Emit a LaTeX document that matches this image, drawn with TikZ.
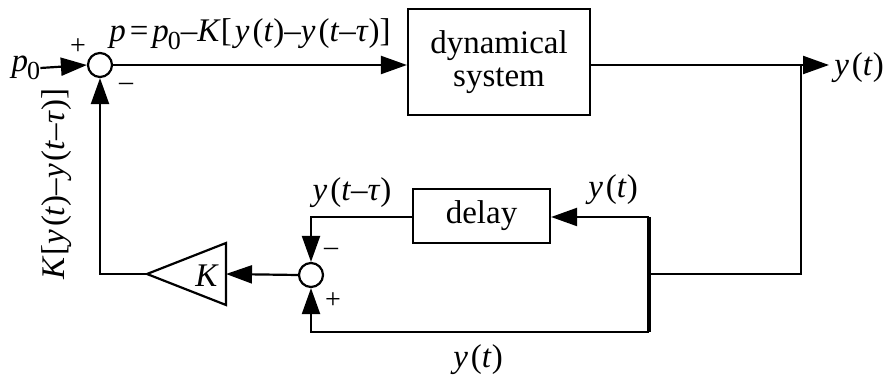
\documentclass[tikz,border=0pt]{standalone}
\usepackage{fontspec}
\setmainfont{Liberation Serif}
\usetikzlibrary{arrows.meta,calc}
\newcommand\mi[1]{\textit{#1}}
\newcommand\yof[1]{\mi{y}\kern3pt(#1)}
\newcommand\ytt{\yof{\mi{t}}}
\newcommand\ytau{\yof{\mi{t}–\mi{τ}}}
\newcommand\pnull{\mi{p}\kern-1pt\raisebox{-8pt}{\fontsize{26}{26}\selectfont 0}}
\tikzset{
  wire/.style={line width=2.2pt},
  thickwire/.style={line width=3.2pt},
  arr/.style={wire,-{Triangle[length=26pt,width=18pt]}},
  sumj/.style={circle,draw,line width=2.2pt,minimum size=24pt,inner sep=0pt},
  blockbox/.style={draw,line width=2.2pt,rectangle,inner sep=0pt,align=center},
  lbl/.style={inner sep=0pt,font=\fontsize{33}{37}\selectfont},
  sgn/.style={inner sep=0pt,font=\fontsize{28}{30}\selectfont}
}
\begin{document}
\begin{tikzpicture}[x=1pt,y=-1pt]
\useasboundingbox (0,0) rectangle (887,379);
% nodes
\node[lbl] (p0) at (26,68) {\pnull};
\node[sumj] (s1) at (100,65) {};
\node[blockbox,minimum width=182pt,minimum height=106pt,lbl,inner sep=0pt] (dyn) at (499,62) {dynamical\\[-4pt]system};
\node[blockbox,minimum width=137pt,minimum height=54pt,lbl] (del) at (481.5,216) {delay};
\node[sumj] (s2) at (311,275) {};
\coordinate (out) at (829,65);
\coordinate (br1) at (801,65);
\coordinate (br2) at (801,274);
\coordinate (vt) at (649,217);
\coordinate (vm) at (649,274);
\coordinate (vb) at (649,332);
\coordinate (gtip) at (147,274);
\coordinate (gin) at (226,274);
\coordinate (gtop) at (226,243);
\coordinate (gbot) at (226,305);
\coordinate (fb) at (100,274);
% gain triangle
\draw[wire,line join=miter] (gtop) -- (gtip) -- (gbot) -- cycle;
\node[lbl] (K) at (207,276) {\mi{K}};
% labels
\node[lbl] (ptop) at (250,34) {\mi{p}\kern4pt=\kern4pt\pnull–\mi{K}[\kern3pt\ytt–\ytau]};
\node[lbl] (yout) at (859,68) {\ytt};
\node[lbl,rotate=90] (kfb) at (57,184) {\mi{K}[\ytt–\ytau]};
\node[lbl] (ydl) at (352,193) {\ytau};
\node[lbl] (ydr) at (613,190) {\ytt};
\node[lbl] (ybot) at (478,360) {\ytt};
\node[sgn] (s1p) at (78,47) {+};
\node[sgn] (s1m) at (126,87) {–};
\node[sgn] (s2m) at (331,252) {–};
\node[sgn] (s2p) at (333,301) {+};
% connectors
\draw[arr] (p0.east) -- (s1.west);
\draw[arr] (s1.east) -- (dyn.west |- s1.east);
\draw[arr] (dyn.east |- out) -- (out);
\draw[wire] (br1) -- (br2) -- (vm);
\draw[thickwire] (vt) -- (vb);
\draw[arr] (vt) -- (del.east |- vt);
\draw[arr] (del.west |- vt) -| (s2.north);
\draw[arr] (vb) -| (s2.south);
\draw[arr] (s2.west) -- (gin);
\draw[arr] (gtip) -- (fb) -- (s1.south);
\end{tikzpicture}
\end{document}
